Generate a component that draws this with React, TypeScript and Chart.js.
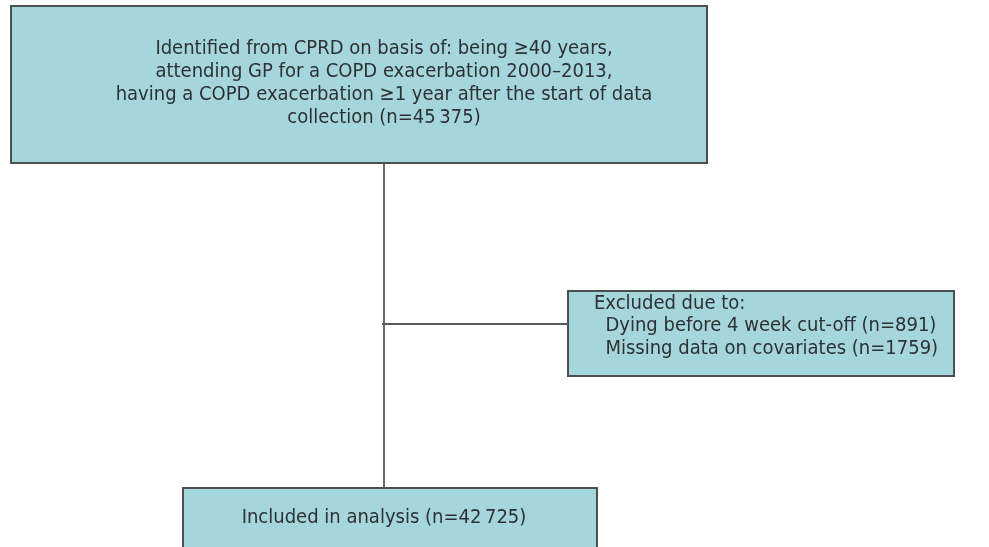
import React, { useEffect, useRef } from "react";
import { Chart, registerables } from "chart.js";

Chart.register(...registerables);

// Flowchart content
const boxLabels = ["identified", "excluded", "included"];
const boxLeft = [11, 568, 183];
const boxTop = [6, 291, 488];
const boxRight = [707, 954, 597];
const boxBottom = [163, 376, 570];
const boxAlign = ["center", "left", "center"];
const boxTexts: string[][] = [
  [
    "Identified from CPRD on basis of: being \u226540 years,",
    "attending GP for a COPD exacerbation 2000\u20132013,",
    "having a COPD exacerbation \u22651 year after the start of data",
    "collection (n=45\u2009375)",
  ],
  ["Excluded due to:", "  Dying before 4 week cut-off (n=891)", "  Missing data on covariates (n=1759)"],
  ["Included in analysis (n=42\u2009725)"],
];
const textBaseY = [54, 308.5, 523];
const textX = [384, 594, 384];
const lineGap = [23, 22.5, 0];

const vLineX = [384, 384];
const vLineY = [163, 488];
const hLineX = [382, 568];
const hLineY = [324, 324];

const FILL = "#a4d6db";
const STROKE = "#4a4f52";
const TEXT = "#2e3133";
const FONT = "20px 'DejaVu Sans Condensed', 'DejaVu Sans', sans-serif";

const boxPlugin = {
  id: "flowBoxes",
  beforeDatasetsDraw(chart: any) {
    const ctx = chart.ctx;
    const xs = chart.scales.x;
    const ys = chart.scales.y;
    ctx.save();
    for (let i = 0; i < boxLabels.length; i++) {
      const l = xs.getPixelForValue(boxLeft[i]);
      const r = xs.getPixelForValue(boxRight[i]);
      const t = ys.getPixelForValue(boxTop[i]);
      const b = ys.getPixelForValue(boxBottom[i]);
      ctx.fillStyle = FILL;
      ctx.fillRect(l, t, r - l, b - t);
      ctx.strokeStyle = STROKE;
      ctx.lineWidth = 2;
      ctx.strokeRect(l, t, r - l, b - t);
      ctx.fillStyle = TEXT;
      ctx.font = FONT;
      ctx.textBaseline = "alphabetic";
      ctx.textAlign = boxAlign[i];
      const tx = xs.getPixelForValue(textX[i]);
      boxTexts[i].forEach((line, k) => {
        const ty = ys.getPixelForValue(textBaseY[i] + k * lineGap[i]);
        ctx.fillText(line, tx, ty);
      });
    }
    ctx.restore();
  },
};

export default function App() {
  const ref = useRef<HTMLCanvasElement | null>(null);
  useEffect(() => {
    document.body.style.margin = "0";
    const chart = new Chart(ref.current as HTMLCanvasElement, {
      type: "scatter",
      data: {
        datasets: [
          {
            data: vLineX.map((x, i) => ({ x, y: vLineY[i] })),
            showLine: true,
            borderColor: "#555a5c",
            borderWidth: 1.8,
            pointRadius: 0,
          },
          {
            data: hLineX.map((x, i) => ({ x, y: hLineY[i] })),
            showLine: true,
            borderColor: "#555a5c",
            borderWidth: 1.8,
            pointRadius: 0,
          },
        ],
      },
      options: {
        animation: false,
        responsive: false,
        maintainAspectRatio: false,
        layout: { padding: 0 },
        plugins: { legend: { display: false }, tooltip: { enabled: false } },
        scales: {
          x: { type: "linear", min: 0, max: 989, display: false },
          y: { type: "linear", min: 0, max: 547, reverse: true, display: false },
        },
      },
      plugins: [boxPlugin],
    });
    return () => chart.destroy();
  }, []);
  return (
    <div style={{ position: "absolute", left: 0, top: 0, width: 989, height: 547, background: "#fff" }}>
      <canvas ref={ref} width={989} height={547} style={{ display: "block" }} />
    </div>
  );
}
